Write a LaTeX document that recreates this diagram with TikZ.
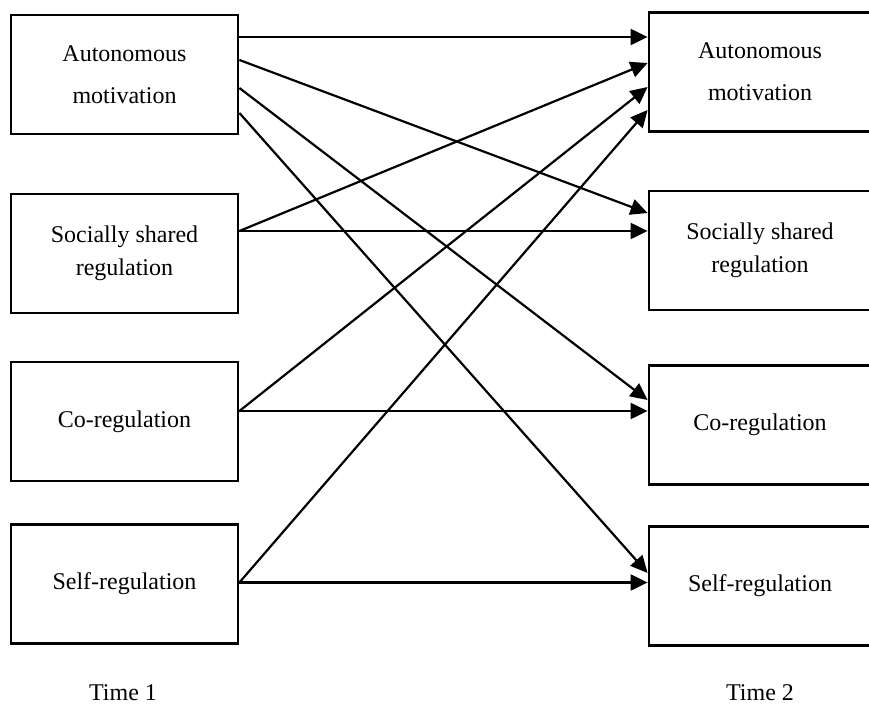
\documentclass[tikz,border=0pt]{standalone}
\usepackage{fontspec}
\setmainfont{Liberation Serif}
\usepackage{tikz}
\usetikzlibrary{arrows.meta}

\begin{document}
\begin{tikzpicture}[x=0.5pt,y=-0.5pt,
    font=\fontsize{12}{16.5}\selectfont,
    var/.style={draw,line width=1.4pt,minimum width=113.5pt,minimum height=59.5pt,align=center,inner sep=0pt},
    var2/.style={var,minimum width=111pt}]
    \useasboundingbox (0,0) rectangle (869,706);
    \node[var] at (124.5,74.5) (am1) {Autonomous\\[4.5pt]motivation};
    \node[var] at (124.5,253.5) (ssr1) {Socially shared\\regulation};
    \node[var] at (124.5,421.5) (co1) {Co-regulation};
    \node[var] at (124.5,584) (self1) {Self-regulation};
    \node[var2] at (760,72) (am2) {Autonomous\\[4.5pt]motivation};
    \node[var2] at (760,250.5) (ssr2) {Socially shared\\regulation};
    \node[var2] at (760,425) (co2) {Co-regulation};
    \node[var2] at (760,586) (self2) {Self-regulation};
    \node at (123,693) (t1) {Time 1};
    \node at (760,693) (t2) {Time 2};
    \path[-{Triangle[length=8.5pt,width=8pt]}, line width=1.1pt]
    ([yshift=18.75pt]am1.east) edge ([yshift=17.5pt]am2.west)
    ([yshift=7.25pt]am1.east) edge ([yshift=18.75pt]ssr2.west)
    ([yshift=-6.75pt]am1.east) edge ([yshift=12.5pt]co2.west)
    ([yshift=-19.25pt]am1.east) edge ([yshift=6.5pt]self2.west)
    ([yshift=11.25pt]ssr1.east) edge ([yshift=4.5pt]am2.west)
    ([yshift=11.25pt]ssr1.east) edge ([yshift=9.75pt]ssr2.west)
    ([yshift=5.25pt]co1.east) edge ([yshift=-7.5pt]am2.west)
    ([yshift=5.25pt]co1.east) edge ([yshift=7pt]co2.west)
    ([yshift=0.75pt]self1.east) edge ([yshift=-19pt]am2.west)
    ([yshift=0.75pt]self1.east) edge ([yshift=1.75pt]self2.west)
    ;
\end{tikzpicture}
\end{document}
